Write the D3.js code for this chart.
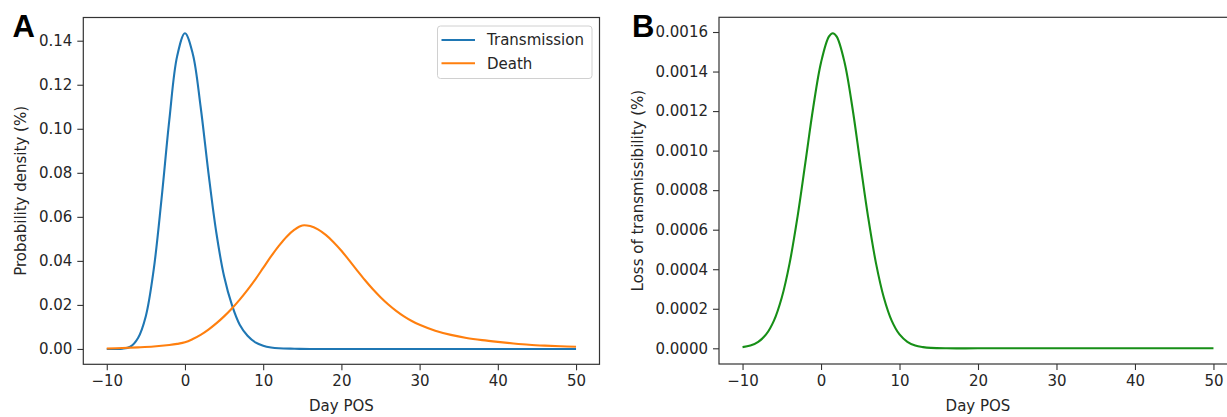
<!DOCTYPE html>
<html>
<head>
<meta charset="utf-8">
<script src="https://cdn.jsdelivr.net/npm/d3@7"></script>
<style>
  html, body { margin: 0; padding: 0; background: #fff; overflow: hidden; }
  svg { display: block; font-family: "DejaVu Sans", sans-serif; }
</style>
</head>
<body>
<svg id="chart" width="1227" height="417"></svg>
<script>
// ---------- data ----------
const transmissionDays = [-10, -9, -8, -7, -6, -5, -4, -3, -2, -1, 0, 1, 2, 3, 4, 5, 6, 7, 8, 9, 10, 11, 12, 14, 16, 20, 30, 40, 50];
const transmissionValues = [0, 0, 0.0001, 0.001, 0.005, 0.015, 0.036, 0.068, 0.104, 0.133, 0.1434, 0.134, 0.110, 0.080, 0.053, 0.033, 0.020, 0.011, 0.006, 0.003, 0.0015, 0.0007, 0.0003, 0.0001, 0, 0, 0, 0, 0];

const deathDays = [-10, -8, -6, -4, -2, -1, 0, 1, 2, 3, 4, 5, 6, 7, 8, 9, 10, 11, 12, 13, 14, 15, 16, 17, 18, 19, 20, 21, 22, 23, 24, 25, 26, 27, 28, 29, 30, 32, 34, 36, 38, 40, 42, 44, 46, 48, 50];
const deathValues = [0.0002, 0.0004, 0.0007, 0.0011, 0.0018, 0.0023, 0.0030, 0.0045, 0.0064, 0.0088, 0.0116, 0.0148, 0.0184, 0.0224, 0.0268, 0.0316, 0.0368, 0.0420, 0.0468, 0.0510, 0.0542, 0.0561, 0.0558, 0.0543, 0.0518, 0.0485, 0.0446, 0.0402, 0.0357, 0.0313, 0.0272, 0.0235, 0.0202, 0.0173, 0.0148, 0.0127, 0.0110, 0.0083, 0.0064, 0.0050, 0.0040, 0.0032, 0.0025, 0.0019, 0.0015, 0.0012, 0.0010];

const lossDays = [-10, -9, -8, -7, -6, -5, -4, -3, -2, -1, 0, 1, 1.5, 2, 3, 4, 5, 6, 7, 8, 9, 10, 11, 12, 13, 14, 16, 20, 30, 40, 50];
const lossValues = [0.000006, 0.000014, 0.000033, 0.000070, 0.000140, 0.000257, 0.000431, 0.000664, 0.000938, 0.001217, 0.001446, 0.001577, 0.001594, 0.001577, 0.001446, 0.001217, 0.000938, 0.000664, 0.000431, 0.000257, 0.000140, 0.000070, 0.000033, 0.000014, 0.000006, 0.000002, 0, 0, 0, 0, 0];

const xTicks = [-10, 0, 10, 20, 30, 40, 50];
const yTicksA = [0, 0.02, 0.04, 0.06, 0.08, 0.10, 0.12, 0.14];
const yTicksB = [0, 0.0002, 0.0004, 0.0006, 0.0008, 0.0010, 0.0012, 0.0014, 0.0016];

const seriesNames = ["Transmission", "Death"];
const xLabel = "Day POS";
const yLabelA = "Probability density (%)";
const yLabelB = "Loss of transmissibility (%)";

// ---------- drawing ----------
const svg = d3.select("#chart");
const colors = { blue: "#1f77b4", orange: "#ff7f0e", green: "#178f17" };
const textColor = "#262626";
const spineColor = "#333";

function zip(xs, ys) { return xs.map((d, i) => ({ x: d, y: ys[i] })); }

function panel(opts) {
  const { left, right, top, bottom, yDomain, yTicks, yFmt, yLabel, yLabelX, letter, letterX, letterY } = opts;
  const x = d3.scaleLinear().domain([-13, 53]).range([left, right]);
  const y = d3.scaleLinear().domain(yDomain).range([bottom, top]);
  const g = svg.append("g");

  // lines
  const line = d3.line().x(d => x(d.x)).y(d => y(d.y)).curve(d3.curveCatmullRom.alpha(0.5));
  opts.series.forEach(s => {
    g.append("path").datum(s.data)
      .attr("fill", "none").attr("stroke", s.color).attr("stroke-width", 2.1)
      .attr("stroke-linejoin", "round").attr("stroke-linecap", "butt")
      .attr("d", line);
  });

  // axes
  const xAxis = d3.axisBottom(x).tickValues(xTicks).tickSize(6).tickPadding(5)
    .tickFormat(d => (d < 0 ? "\u2212" + Math.abs(d) : String(d)));
  const yAxis = d3.axisLeft(y).tickValues(yTicks).tickSize(6).tickPadding(5).tickFormat(yFmt);

  const gx = g.append("g").attr("transform", `translate(0,${bottom})`).call(xAxis);
  const gy = g.append("g").attr("transform", `translate(${left},0)`).call(yAxis);
  [gx, gy].forEach(a => {
    a.select(".domain").remove();
    a.selectAll(".tick line").attr("stroke", spineColor).attr("stroke-width", 1.1);
    a.selectAll(".tick text").attr("fill", textColor).style("font-size", "15px")
      .style("font-family", "DejaVu Sans");
  });

  // frame (spines)
  g.append("rect").attr("x", left).attr("y", top)
    .attr("width", right - left).attr("height", bottom - top)
    .attr("fill", "none").attr("stroke", spineColor).attr("stroke-width", 1.2);

  // labels
  g.append("text").attr("x", (left + right) / 2).attr("y", 411)
    .attr("text-anchor", "middle").attr("fill", textColor).style("font-size", "15px")
    .text(xLabel);
  g.append("text")
    .attr("transform", `translate(${yLabelX},${(top + bottom) / 2}) rotate(-90)`)
    .attr("text-anchor", "middle").attr("fill", textColor).style("font-size", "15px")
    .text(yLabel);

  svg.append("text").attr("x", letterX).attr("y", letterY)
    .attr("fill", "#000").style("font-family", "Liberation Sans, Arial, sans-serif")
    .style("font-weight", "bold").style("font-size", "31px").text(letter);

  return { g, x, y };
}

const pA = panel({
  left: 83.3, right: 599.5, top: 17.5, bottom: 364.3,
  yDomain: [-0.00697, 0.15054], yTicks: yTicksA, yFmt: d3.format(".2f"),
  yLabel: yLabelA, yLabelX: 25.5, letter: "A", letterX: 12.5, letterY: 37,
  series: [
    { data: zip(transmissionDays, transmissionValues), color: colors.blue },
    { data: zip(deathDays, deathValues), color: colors.orange }
  ]
});

const pB = panel({
  left: 719, right: 1237, top: 17.3, bottom: 364,
  yDomain: [-0.0000794, 0.0016744], yTicks: yTicksB, yFmt: d3.format(".4f"),
  yLabel: yLabelB, yLabelX: 642.5, letter: "B", letterX: 632, letterY: 37,
  series: [
    { data: zip(lossDays, lossValues), color: colors.green }
  ]
});

// legend (panel A)
const leg = pA.g.append("g");
leg.append("rect").attr("x", 437.5).attr("y", 26).attr("width", 154.5).attr("height", 52.5)
  .attr("rx", 3).attr("fill", "#fff").attr("fill-opacity", 0.85)
  .attr("stroke", "#d0d0d0").attr("stroke-width", 1);
const legColors = [colors.blue, colors.orange];
seriesNames.forEach((name, i) => {
  const yy = 40 + i * 23.3;
  leg.append("line").attr("x1", 441.5).attr("x2", 475).attr("y1", yy).attr("y2", yy)
    .attr("stroke", legColors[i]).attr("stroke-width", 2.1);
  leg.append("text").attr("x", 487).attr("y", yy).attr("dy", "0.36em")
    .attr("fill", textColor).style("font-size", "15px").text(name);
});
</script>
</body>
</html>
